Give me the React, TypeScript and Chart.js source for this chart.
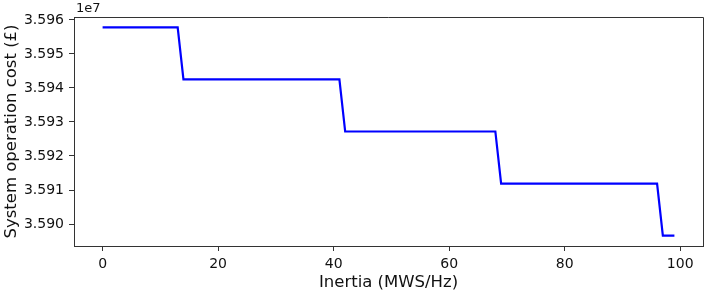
import React, { useEffect, useRef } from "react";
import { Chart, registerables } from "chart.js";

Chart.register(...registerables);

const inertia: number[] = Array.from({ length: 100 }, (_, i) => i);
const levels: number[] = [3.59578e7, 3.59425e7, 3.59272e7, 3.59119e7, 3.58966e7];
const stepEnds: number[] = [13, 41, 68, 96, 99];
const xTicks: number[] = [0, 20, 40, 60, 80, 100];
const yTicks: number[] = [3.59e7, 3.591e7, 3.592e7, 3.593e7, 3.594e7, 3.595e7, 3.596e7];

const cost: number[] = inertia.map((x) => {
  const idx = stepEnds.findIndex((e) => x <= e);
  return levels[idx];
});

const FONT = "'DejaVu Sans', sans-serif";
const AXIS = "#333333";
const TEXT = "#111111";

export default function App() {
  const ref = useRef<HTMLCanvasElement | null>(null);
  useEffect(() => {
    document.body.style.margin = "0";
    const ctx = ref.current!;
    const ymin = Math.min(...cost), ymax = Math.max(...cost);
    const ym = (ymax - ymin) * 0.05;
    const xm = 99 * 0.05;
    const framePlugin = {
      id: "frame",
      afterDraw(chart: any) {
        const { ctx: c, chartArea: a } = chart;
        c.save();
        c.strokeStyle = AXIS;
        c.lineWidth = 1;
        c.beginPath();
        c.moveTo(a.left, a.top + 0.5);
        c.lineTo(a.right + 0.5, a.top + 0.5);
        c.lineTo(a.right + 0.5, a.bottom);
        c.stroke();
        c.fillStyle = TEXT;
        c.font = `13px ${FONT}`;
        c.textBaseline = "middle";
        c.textAlign = "left";
        c.fillText("1e7", a.left + 2, 9);
        c.restore();
      },
    };
    const chart = new Chart(ctx, {
      type: "line",
      data: {
        datasets: [
          {
            data: inertia.map((x, i) => ({ x, y: cost[i] })),
            borderColor: "#0000ff",
            borderWidth: 2.2,
            pointRadius: 0,
            tension: 0,
            fill: false,
          },
        ],
      },
      options: {
        animation: false,
        responsive: false,
        maintainAspectRatio: false,
        layout: { padding: { top: 17, right: 3, left: 0, bottom: 0 } },
        plugins: { legend: { display: false }, tooltip: { enabled: false } },
        scales: {
          x: {
            type: "linear",
            min: -xm,
            max: 99 + xm,
            afterBuildTicks: (s: any) => {
              s.ticks = xTicks.map((v) => ({ value: v }));
            },
            afterFit: (s: any) => {
              s.height = 48;
            },
            ticks: {
              color: TEXT,
              font: { family: FONT, size: 14 },
              padding: 5,
              maxRotation: 0,
              callback: (v: any) => String(v),
            },
            grid: { drawOnChartArea: false, drawTicks: true, tickLength: 5, color: AXIS },
            border: { color: AXIS, width: 1 },
            title: {
              display: true,
              text: "Inertia (MWS/Hz)",
              color: TEXT,
              font: { family: FONT, size: 16.5 },
              padding: { top: 0, bottom: 1 },
            },
          },
          y: {
            type: "linear",
            min: ymin - ym,
            max: ymax + ym,
            afterBuildTicks: (s: any) => {
              s.ticks = yTicks.map((v) => ({ value: v }));
            },
            afterFit: (s: any) => {
              s.width = 74;
            },
            ticks: {
              color: TEXT,
              font: { family: FONT, size: 14 },
              padding: 5,
              callback: (v: any) => (Number(v) / 1e7).toFixed(3),
            },
            grid: { drawOnChartArea: false, drawTicks: true, tickLength: 5, color: AXIS },
            border: { color: AXIS, width: 1 },
            title: {
              display: true,
              text: "System operation cost (£)",
              color: TEXT,
              font: { family: FONT, size: 16.5 },
              padding: { top: 2, bottom: 0 },
            },
          },
        },
      },
      plugins: [framePlugin],
    } as any);
    return () => chart.destroy();
  }, []);
  return (
    <div style={{ position: "absolute", left: 0, top: 0, width: 706, height: 294 }}>
      <canvas ref={ref} width={706} height={294} style={{ width: 706, height: 294, display: "block" }} />
    </div>
  );
}
